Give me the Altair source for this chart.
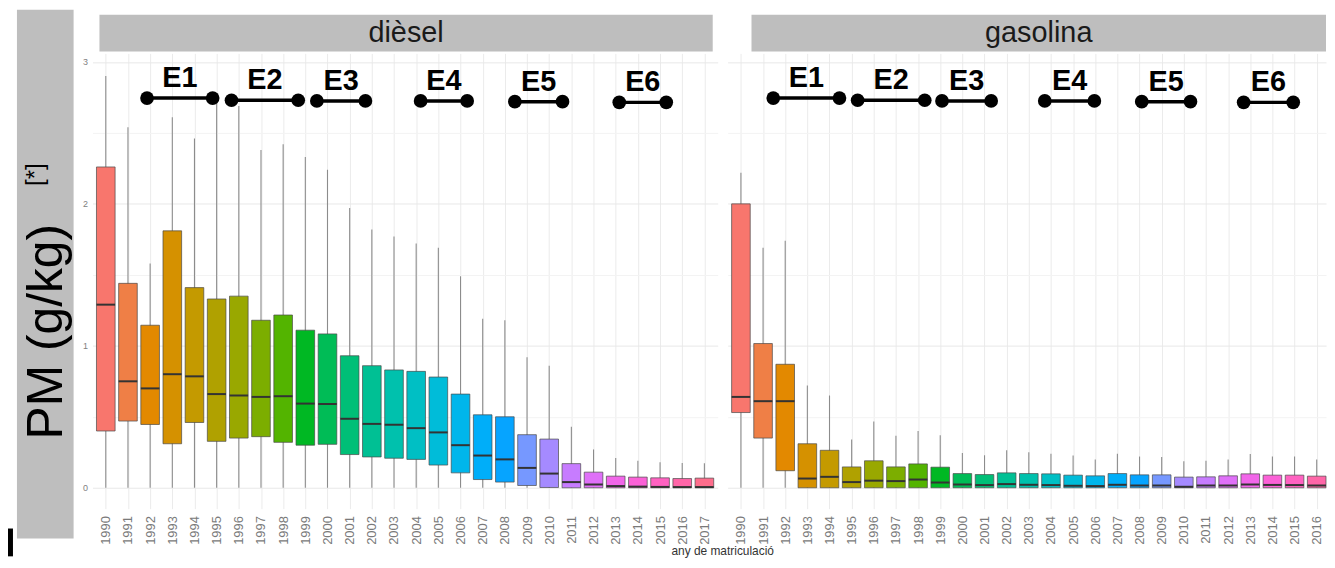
import math
import altair as alt
import pandas as pd

# ---------------- data ----------------
years_d = list(range(1990, 2018))
years_g = list(range(1990, 2017))

# dièsel
d_lo = [0.0] * 28
d_q1 = [0.40, 0.47, 0.446, 0.31, 0.46, 0.327, 0.35, 0.36, 0.32, 0.30, 0.306, 0.234, 0.217, 0.208,
        0.20, 0.16, 0.105, 0.058, 0.04, 0.016, 0.002, 0.0, 0.0, 0.0, 0.0, 0.0, 0.0, 0.0]
d_med = [1.29, 0.75, 0.70, 0.80, 0.785, 0.66, 0.65, 0.64, 0.645, 0.593, 0.59, 0.486, 0.45, 0.444,
         0.42, 0.39, 0.30, 0.227, 0.20, 0.14, 0.10, 0.04, 0.023, 0.012, 0.008, 0.006, 0.005, 0.005]
d_q3 = [2.26, 1.44, 1.145, 1.81, 1.41, 1.33, 1.35, 1.18, 1.217, 1.11, 1.084, 0.93, 0.86, 0.83,
        0.82, 0.78, 0.66, 0.514, 0.50, 0.374, 0.343, 0.17, 0.11, 0.082, 0.075, 0.07, 0.065, 0.068]
d_hi = [2.90, 2.54, 1.58, 2.61, 2.46, 2.74, 2.69, 2.38, 2.42, 2.33, 2.24, 1.97, 1.82, 1.77,
        1.72, 1.69, 1.49, 1.19, 1.18, 0.92, 0.86, 0.43, 0.27, 0.21, 0.19, 0.18, 0.175, 0.173]

# gasolina
g_lo = [0.0] * 27
g_q1 = [0.53, 0.35, 0.12, 0.0, 0.0, 0.0, 0.0, 0.0, 0.0, 0.0, 0.0, 0.0, 0.0, 0.0,
        0.0, 0.0, 0.0, 0.0, 0.0, 0.0, 0.0, 0.0, 0.0, 0.0, 0.0, 0.0, 0.0]
g_med = [0.64, 0.61, 0.61, 0.065, 0.077, 0.04, 0.05, 0.047, 0.058, 0.037, 0.023, 0.019, 0.026, 0.021,
         0.019, 0.014, 0.012, 0.021, 0.016, 0.016, 0.007, 0.016, 0.016, 0.023, 0.02, 0.019, 0.016]
g_q3 = [2.00, 1.016, 0.87, 0.31, 0.264, 0.147, 0.19, 0.147, 0.168, 0.145, 0.10, 0.093, 0.105, 0.10,
        0.098, 0.089, 0.084, 0.10, 0.091, 0.091, 0.075, 0.077, 0.084, 0.098, 0.089, 0.089, 0.082]
g_hi = [2.22, 1.69, 1.74, 0.72, 0.65, 0.34, 0.467, 0.367, 0.40, 0.37, 0.245, 0.229, 0.264, 0.25,
        0.24, 0.227, 0.20, 0.24, 0.22, 0.217, 0.187, 0.19, 0.20, 0.238, 0.22, 0.22, 0.20]

# Euro norm annotations
eras = ["E1", "E2", "E3", "E4", "E5", "E6"]
era_y = [2.745, 2.73, 2.725, 2.725, 2.72, 2.715]
d_era_start = [1991.86, 1995.67, 1999.52, 2004.2, 2008.45, 2013.16]
d_era_end = [1994.82, 1998.68, 2001.71, 2006.3, 2010.6, 2015.28]
g_era_start = [1991.46, 1995.27, 1999.08, 2003.72, 2008.1, 2012.7]
g_era_end = [1994.45, 1998.3, 2001.3, 2005.96, 2010.3, 2014.94]

panel_labels = ["dièsel", "gasolina"]
y_title = "PM (g/kg)"
y_title_sup = "[*]"
x_title = "any de matriculació"


# ---------------- ggplot-like hue palette ----------------
def hcl_hex(h, c=100.0, l=65.0):
    hr = math.radians(h)
    U = c * math.cos(hr)
    V = c * math.sin(hr)
    Xn, Yn, Zn = 95.047, 100.0, 108.883
    un = 4 * Xn / (Xn + 15 * Yn + 3 * Zn)
    vn = 9 * Yn / (Xn + 15 * Yn + 3 * Zn)
    Y = Yn * ((l + 16) / 116) ** 3
    u = U / (13 * l) + un
    v = V / (13 * l) + vn
    X = 9.0 * Y * u / (4 * v)
    Z = -X / 3 - 5 * Y + 3 * Y / v
    X, Y, Z = X / 100, Y / 100, Z / 100
    r = 3.240479 * X - 1.537150 * Y - 0.498535 * Z
    g = -0.969256 * X + 1.875992 * Y + 0.041556 * Z
    b = 0.055648 * X - 0.204043 * Y + 1.057311 * Z

    def gam(t):
        t = 1.055 * t ** (1 / 2.4) - 0.055 if t > 0.0031308 else 12.92 * t
        return max(0, min(255, round(t * 255)))

    return "#%02x%02x%02x" % (gam(r), gam(g), gam(b))


palette = [hcl_hex(15 + 360 * i / 28) for i in range(28)]

FONT = "Liberation Sans"
PLOT_H = 458
YS = alt.Scale(domain=[-0.147, 3.06], nice=False, zero=False)


def panel(years, lo, q1, med, q3, hi, e_start, e_end, xmax, width, label, sx0, sx1, show_y, with_xtitle):
    df = pd.DataFrame({"year": years, "lo": lo, "q1": q1, "med": med, "q3": q3, "hi": hi})
    xs = alt.Scale(domain=[1989.4, xmax], nice=False, zero=False)
    xaxis = alt.Axis(values=years, format="d", labelAngle=270, grid=True, gridColor="#ebebeb",
                     gridWidth=1, ticks=False, domain=False, labelPadding=7, labelFontSize=13,
                     labelColor="#7a7a7a", labelFont=FONT, labelOverlap=False, labelFlush=False,
                     title=None)
    yaxis = alt.Axis(values=[0, 0.5, 1, 1.5, 2, 2.5, 3],
                     labelExpr="datum.value % 1 == 0 ? format(datum.value, 'd') : ''",
                     grid=True,
                     gridColor={"condition": {"test": "datum.value % 1 == 0", "value": "#e8e8e8"},
                                "value": "#f3f3f3"},
                     ticks=False, domain=False, labels=show_y, labelPadding=5, labelFontSize=9,
                     labelColor="#808080", labelFont=FONT, title=None)

    def X(f):
        return alt.X(f, type="quantitative", scale=xs, axis=xaxis)

    def Y(f):
        return alt.Y(f, type="quantitative", scale=YS, axis=yaxis)

    base = alt.Chart(df)
    whisk = base.mark_rule(color="#8c8c8c", strokeWidth=1.1).encode(
        x=X("year"), y=Y("lo"), y2="hi")
    calc = base.transform_calculate(x0="datum.year - 0.42", x1="datum.year + 0.42")
    box = calc.mark_rect(stroke="#4a4a4a", strokeWidth=0.7).encode(
        x=X("x0"), x2="x1", y=Y("q1"), y2="q3",
        fill=alt.Fill("year:N", scale=alt.Scale(domain=years_d, range=palette), legend=None))
    medl = calc.mark_rule(color="#333333", strokeWidth=2).encode(
        x=X("x0"), x2="x1", y=Y("med"))

    edf = pd.DataFrame({"era": eras, "start": e_start, "end": e_end, "y": era_y})
    ebase = alt.Chart(edf)
    eline = ebase.mark_rule(color="black", strokeWidth=3.5).encode(
        x=X("start"), x2="end", y=Y("y"))
    edots = ebase.transform_fold(["start", "end"], as_=["k", "xv"]).mark_circle(
        color="black", size=190, opacity=1).encode(x=X("xv"), y=Y("y"))
    etext = ebase.transform_calculate(xm="(datum.start + datum.end) / 2").mark_text(
        font=FONT, fontSize=29, fontWeight="bold", color="black", baseline="middle",
        dy=-20).encode(x=X("xm"), y=Y("y"), text="era:N")

    sdata = alt.Data(values=[{"lab": label}])
    srect = alt.Chart(sdata).mark_rect(color="#bebebe").encode(
        x=alt.value(sx0), x2=alt.value(sx1), y=alt.value(-39), y2=alt.value(-2))
    stext = alt.Chart(sdata).mark_text(font=FONT, fontSize=29, color="#1a1a1a",
                                       baseline="middle", align="center").encode(
        x=alt.value((sx0 + sx1) / 2), y=alt.value(-20), text="lab:N")

    layers = [whisk, box, medl, eline, edots, etext, srect, stext]
    if with_xtitle:
        tdata = alt.Data(values=[{"t": x_title}])
        layers.append(alt.Chart(tdata).mark_text(font=FONT, fontSize=12, color="#333333",
                                                 baseline="middle", align="center").encode(
            x=alt.value(634), y=alt.value(501), text="t:N"))
    return alt.layer(*layers).properties(width=width, height=PLOT_H)


left = panel(years_d, d_lo, d_q1, d_med, d_q3, d_hi, d_era_start, d_era_end, 2017.6, 629,
             panel_labels[0], 7, 624, True, True)
right = panel(years_g, g_lo, g_q1, g_med, g_q3, g_hi, g_era_start, g_era_end, 2016.42, 602,
              panel_labels[1], 24, 602, False, False)

ytd = alt.Data(values=[{"t": y_title, "s": y_title_sup}])
yt_rect = alt.Chart(ytd).mark_rect(color="#bebebe").encode(
    x=alt.value(0), x2=alt.value(57), y=alt.value(-44), y2=alt.value(488))
yt_text = alt.Chart(ytd).mark_text(font=FONT, fontSize=50, angle=270, color="black",
                                   baseline="middle", align="center").encode(
    x=alt.value(30), y=alt.value(280), text="t:N")
yt_sup = alt.Chart(ytd).mark_text(font=FONT, fontSize=24, angle=270, color="black",
                                  baseline="middle", align="center").encode(
    x=alt.value(19), y=alt.value(122), text="s:N")
blk = alt.Chart(ytd).mark_rect(color="black").encode(
    x=alt.value(-9), x2=alt.value(-4), y=alt.value(478), y2=alt.value(506))
ytitle = alt.layer(yt_rect, yt_text, yt_sup, blk).properties(width=66, height=PLOT_H)

chart = alt.hconcat(ytitle, left, right, spacing=10, bounds="flush").properties(
    padding={"left": 0, "top": 0, "right": 0, "bottom": 0},
    background="white",
).configure_view(stroke=None)

chart.save("out.html", embed_options={"renderer": "svg", "actions": False})
